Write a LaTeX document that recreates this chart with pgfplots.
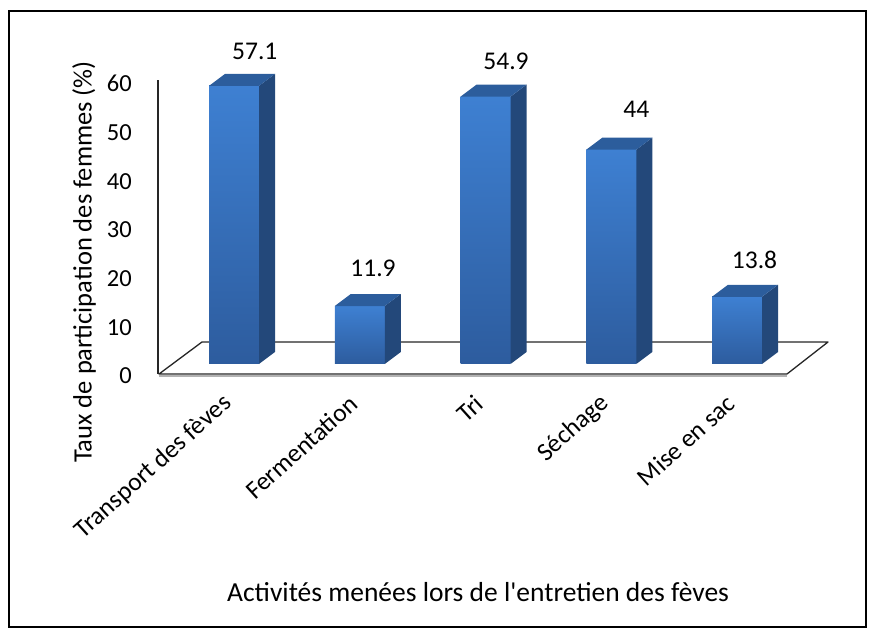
\documentclass[border=0pt]{standalone}
\usepackage{fontspec}
\setmainfont{Carlito}[Ligatures=TeXOff]
\usepackage{pgfplots}
\usepackage{pgfplotstable}
\pgfplotsset{compat=1.18}

\definecolor{fronttop}{RGB}{62,128,210}
\definecolor{frontbot}{RGB}{45,92,158}
\definecolor{barside}{RGB}{35,72,122}
\definecolor{bartop}{RGB}{44,93,156}

% side and top faces of a 3D bar, drawn at the top-front-centre of the bar
\pgfdeclareplotmark{box3d}{%
  \pgfmathsetmacro\hh{\barval*4.87}%
  \pgfsetfillcolor{barside}%
  \pgfpathmoveto{\pgfqpoint{25pt}{0pt}}%
  \pgfpathlineto{\pgfqpoint{41pt}{12pt}}%
  \pgfpathlineto{\pgfpoint{41pt}{12pt-\hh pt}}%
  \pgfpathlineto{\pgfpoint{25pt}{-\hh pt}}%
  \pgfpathclose
  \pgfusepath{fill}%
  \pgfsetfillcolor{bartop}%
  \pgfpathmoveto{\pgfqpoint{-25pt}{0pt}}%
  \pgfpathlineto{\pgfqpoint{25pt}{0pt}}%
  \pgfpathlineto{\pgfqpoint{41pt}{12pt}}%
  \pgfpathlineto{\pgfqpoint{-9pt}{12pt}}%
  \pgfpathclose
  \pgfusepath{fill}%
}

\pgfplotstableread{
x v lx ly
0 57.1 20.8 34.2
1 11.9 13.3 37.3
2 54.9 20.5 34.9
3 44 25.0 40.0
4 13.8 17.5 37.3
}\datatable

\begin{document}
\begin{tikzpicture}[x=1pt,y=1pt]
\useasboundingbox (0,0) rectangle (876,637);
\draw[line width=1.5pt] (9,10) rectangle (866,626);
\begin{axis}[
  at={(234pt,273pt)}, anchor=origin,
  x=125.75pt, y=4.87pt,
  xmin=-0.6044, xmax=4.8, ymin=-7.39, ymax=58.32,
  axis line style={draw=none},
  clip=false,
  major tick length=0pt,
  /pgf/number format/assume math mode=true,
  xtick={0,...,4},
  xticklabels={Transport des fèves, Fermentation, Tri, Séchage, Mise en sac},
  ytick={-2.46,7.54,17.54,27.54,37.54,47.54,57.54},
  yticklabels={0,10,20,30,40,50,60},
  yticklabel style={font=\fontsize{24.5}{29}\selectfont, inner sep=0pt, anchor=east, xshift=-26pt},
  xticklabel style={font=\fontsize{25.5}{30}\selectfont, inner sep=0pt, xshift=-6pt, rotate=42, anchor=east},
  xlabel={Activités menées lors de l'entretien des fèves},
  xlabel style={at={(axis description cs:0.47088,-0.60006)}, anchor=center, inner sep=0pt, font=\fontsize{27.5}{32}\selectfont},
  ylabel={Taux de participation des femmes (\%)},
  ylabel style={at={(axis description cs:-0.10888,0.43121)}, anchor=center, rotate=0, inner sep=0pt, font=\fontsize{26.5}{31}\selectfont},
]
% floor
\fill[white] (axis cs:-0.5964,-2.053) -- (axis cs:4.3976,-2.053) -- (axis cs:4.7237,4.517) -- (axis cs:-0.2545,4.517) -- cycle;
\draw[gray!60, line width=2.5pt] (axis cs:-0.5964,-2.45) -- (axis cs:4.3976,-2.45);
\draw[black!85, line width=1.3pt, line join=round] (axis cs:-0.5964,-2.053) -- (axis cs:4.3976,-2.053) -- (axis cs:4.7237,4.517) -- (axis cs:-0.2545,4.517) -- cycle;
% left wall edge
\draw[black!85, line width=1.3pt] (axis cs:-0.6044,-2.053) -- (axis cs:-0.6044,58.32);

% front faces of the bars
\pgfplotsinvokeforeach{0,...,4}{
\addplot[ybar, bar width=50pt, bar shift=0pt, draw=none,
  top color=fronttop, bottom color=frontbot,
  restrict expr to domain={\coordindex}{#1:#1}]
  table[x=x, y=v] {\datatable};
}
% side and top faces, with the value labels
\addplot[only marks, mark=box3d,
  visualization depends on={\thisrow{v} \as \barval},
  visualization depends on={\thisrow{lx} \as \labx},
  visualization depends on={\thisrow{ly} \as \laby},
  point meta=y,
  nodes near coords,
  every node near coord/.append style={font=\fontsize{25.5}{30}\selectfont, anchor=center, inner sep=0pt, xshift=\labx pt, yshift=\laby pt}]
  table[x=x, y=v] {\datatable};
\end{axis}
\end{tikzpicture}
\end{document}
